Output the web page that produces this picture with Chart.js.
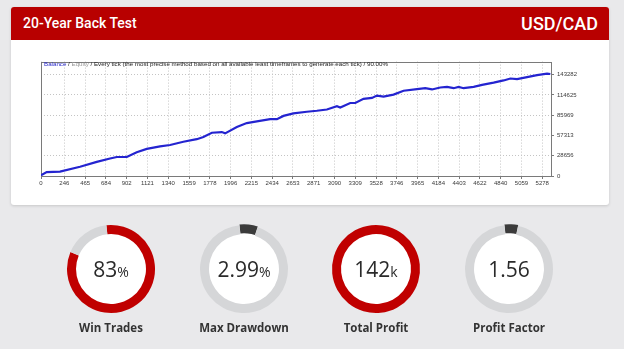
<!DOCTYPE html>
<html>
<head>
<meta charset="utf-8">
<script src="https://cdn.jsdelivr.net/npm/chart.js@4/dist/chart.umd.min.js"></script>
<style>
    body { margin: 0; width: 624px; height: 349px; background: #e9e9eb; position: relative; overflow: hidden; font-family: Roboto, 'Open Sans', sans-serif; }
    .card { position: absolute; left: 11px; top: 7px; width: 598px; height: 198px; background: #fff; border-radius: 3px; box-shadow: 0 1px 3px rgba(0,0,0,0.15); }
    .head { position: absolute; left: 11px; top: 7px; width: 598px; height: 33px; background: #b80000; border-radius: 3px 3px 0 0; color: #fff; }
    .head .t { position: absolute; left: 12px; top: 8px; font-size: 14px; font-weight: 500; }
    .head .r { position: absolute; right: 11px; top: 6px; font-size: 18px; font-weight: 500; }
    #equityWrap { position: absolute; left: 31px; top: 55px; width: 570px; height: 140px; }
    .legend { position: absolute; left: 44px; top: 60px; font: 6.2px 'Liberation Sans', sans-serif; color: #222; white-space: nowrap; }
    .legend .b { color: #2a2ac8; }
    .legend .e { color: #9a9a9a; }
    .gauge { position: absolute; width: 100px; height: 100px; }
    .gauge .disc { position: absolute; left: 14px; top: 14px; width: 72px; height: 72px; border-radius: 50%; background: #fff; }
    .gauge canvas { position: absolute; left: 0; top: 0; }
    .gauge .val { position: absolute; left: 0; width: 100px; top: 36px; text-align: center; font-family: 'Open Sans', sans-serif; font-size: 21px; color: #2a2a2a; }
    .gauge .val small { font-size: 14px; }
    .glabel { position: absolute; width: 120px; text-align: center; font: 700 11.5px 'Open Sans', sans-serif; color: #333; }
</style>
</head>
<body>
<div class="card"></div>
<div class="head"><span class="t">20-Year Back Test</span><span class="r">USD/CAD</span></div>
<div id="equityWrap"><canvas id="equityChart" width="570" height="140"></canvas></div>
<div class="legend"><span class="b">Balance</span> / <span class="e">Equity</span> / Every tick (the most precise method based on all available least timeframes to generate each tick) / 90.00%</div>
<div id="gauges"></div>

<script>
// Balance curve (trade number -> balance)
const tradeNo = [0, 60, 200, 411, 587, 727, 798, 903, 1008, 1114, 1254, 1359, 1499, 1640, 1710, 1799, 1904, 1939, 2062, 2167, 2273, 2413, 2484, 2553, 2658, 2799, 2905, 3010, 3116, 3151, 3256, 3309, 3396, 3485, 3537, 3607, 3712, 3818, 3959, 4046, 4117, 4204, 4275, 4345, 4397, 4450, 4555, 4644, 4766, 4871, 4942, 5013, 5118, 5223, 5329, 5363];
const balance = [1000, 5480, 6300, 13150, 20000, 24660, 26850, 26850, 33700, 38360, 41920, 43840, 48360, 52060, 55210, 61100, 62060, 60280, 69320, 74800, 77130, 80280, 80280, 84940, 88500, 90830, 92200, 93980, 98640, 96720, 103160, 103160, 109050, 110420, 113710, 112340, 115080, 120560, 122750, 124120, 122340, 125080, 126040, 124120, 126040, 124120, 126040, 128780, 131930, 135080, 137820, 137000, 139740, 142480, 144800, 144200];

// axis ticks
const xTicks = [0, 246, 465, 684, 902, 1121, 1340, 1559, 1778, 1996, 2215, 2434, 2653, 2871, 3090, 3309, 3528, 3746, 3965, 4184, 4403, 4622, 4840, 5059, 5278];
const yTicks = [0, 28656, 57313, 85969, 114625, 143282];

// gauges
const gaugeLabels = ['Win Trades', 'Max Drawdown', 'Total Profit', 'Profit Factor'];
const gaugeValues = ['83', '2.99', '142', '1.56'];
const gaugeUnits = ['%', '%', 'k', ''];
const gaugeArc = [83, 6.7, 100, 5]; // share of ring painted, as seen in picture

const tickFont = { family: 'Liberation Sans', size: 6 };

// frame round the plot area
const framePlugin = {
    id: 'frame',
    beforeDatasetsDraw(chart) {
        const a = chart.chartArea;
        const ctx = chart.ctx;
        ctx.save();
        ctx.strokeStyle = '#7a7a7a';
        ctx.lineWidth = 1;
        ctx.strokeRect(Math.round(a.left) + 0.5, Math.round(a.top) + 0.5, Math.round(a.right - a.left), Math.round(a.bottom - a.top));
        ctx.restore();
    }
};

new Chart(document.getElementById('equityChart'), {
    type: 'line',
    data: {
        datasets: [{
            data: tradeNo.map((t, i) => ({ x: t, y: balance[i] })),
            borderColor: '#2424d0',
            borderWidth: 2.2,
            pointRadius: 0,
            tension: 0
        }]
    },
    options: {
        responsive: false,
        animation: false,
        events: [],
        layout: { padding: { left: 10, top: 3, right: 0, bottom: 0 } },
        plugins: { legend: { display: false }, tooltip: { enabled: false } },
        scales: {
            x: {
                type: 'linear',
                min: 0,
                max: 5370,
                afterBuildTicks: s => { s.ticks = xTicks.map(v => ({ value: v })); },
                afterFit: s => { s.height = 19; },
                ticks: { font: tickFont, color: '#3a3a3a', padding: 1, maxRotation: 0, autoSkip: false, callback: v => String(v) },
                grid: { color: '#c4c4c4', tickLength: 3, tickColor: '#7a7a7a' },
                border: { display: false, dash: [1, 2] }
            },
            y: {
                position: 'right',
                min: 0,
                max: 161700,
                afterBuildTicks: s => { s.ticks = yTicks.map(v => ({ value: v })); },
                afterFit: s => { s.width = 50; },
                ticks: { font: tickFont, color: '#3a3a3a', padding: 3, callback: v => String(v) },
                grid: { color: '#c4c4c4', tickLength: 3, tickColor: '#7a7a7a' },
                border: { display: false, dash: [1, 2] }
            }
        }
    },
    plugins: [framePlugin]
});

// gauges
const centers = [111, 244, 376, 509];
const wrap = document.getElementById('gauges');
gaugeLabels.forEach((label, i) => {
    const g = document.createElement('div');
    g.className = 'gauge';
    g.style.left = (centers[i] - 50) + 'px';
    g.style.top = (269 - 50) + 'px';
    g.innerHTML = '<div class="disc"></div><canvas width="100" height="100"></canvas>' +
        '<div class="val">' + gaugeValues[i] + (gaugeUnits[i] ? '<small>' + gaugeUnits[i] + '</small>' : '') + '</div>';
    wrap.appendChild(g);

    const l = document.createElement('div');
    l.className = 'glabel';
    l.style.left = (centers[i] - 60) + 'px';
    l.style.top = '320px';
    l.textContent = label;
    wrap.appendChild(l);

    const red = gaugeUnits[i] === 'k' || i === 0;
    new Chart(g.querySelector('canvas'), {
        type: 'doughnut',
        data: {
            datasets: [{
                data: [gaugeArc[i], 100 - gaugeArc[i]],
                backgroundColor: [red ? '#c00000' : '#3b3b3b', '#d5d6d8'],
                borderWidth: 0,
                offset: [red ? 0 : 2, 0]
            }]
        },
        options: {
            responsive: false,
            animation: false,
            events: [],
            rotation: -6,
            cutout: '79.5%',
            radius: 44,
            plugins: { legend: { display: false }, tooltip: { enabled: false } }
        }
    });
});
</script>
</body>
</html>
